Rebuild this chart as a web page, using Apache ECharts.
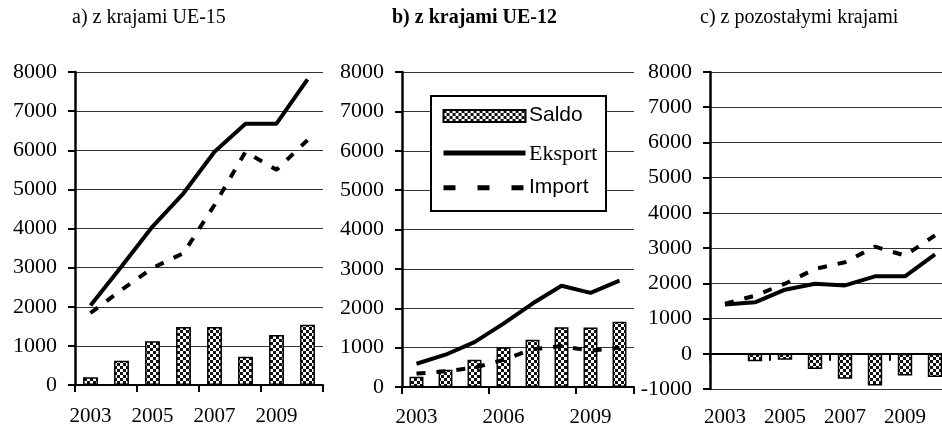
<!DOCTYPE html>
<html>
<head>
<meta charset="utf-8">
<script src="https://cdn.jsdelivr.net/npm/echarts@6/dist/echarts.min.js"></script>
<style>
  html, body { margin: 0; padding: 0; overflow: hidden; background: #fff; }
  #chart { width: 960px; height: 430px; }
</style>
</head>
<body>
<div id="chart"></div>
<script>
// lata
const years = ['2003', '2004', '2005', '2006', '2007', '2008', '2009', '2010']

// a) z krajami UE-15
const saldoA = [200, 620, 1120, 1480, 1480, 720, 1280, 1540]
const eksportA = [2030, 3030, 4050, 4900, 5960, 6680, 6680, 7810]
const importA = [1840, 2430, 2990, 3370, 4600, 5960, 5500, 6260]

// b) z krajami UE-12
const saldoB = [260, 440, 690, 1010, 1200, 1520, 1510, 1660]
const eksportB = [590, 820, 1140, 1610, 2120, 2570, 2390, 2700]
const importB = [340, 400, 490, 690, 960, 1040, 920, 1000]

// c) z pozostałymi krajami
const saldoC = [-20, -210, -170, -430, -710, -900, -620, -660]
const eksportC = [1400, 1460, 1820, 1990, 1940, 2200, 2200, 2820]
const importC = [1420, 1650, 1990, 2410, 2600, 3040, 2790, 3360]

const titles = ['a) z krajami UE-15', 'b) z krajami UE-12', 'c) z pozostałymi krajami']
const legendNames = ['Saldo', 'Eksport', 'Import']

const serif = 'Liberation Serif'

// wzór szachownicy dla słupków
function makePattern() {
  const c = document.createElement('canvas')
  c.width = 6
  c.height = 6
  const g = c.getContext('2d')
  g.fillStyle = '#fff'
  g.fillRect(0, 0, 6, 6)
  g.fillStyle = '#111'
  g.fillRect(0, 0, 3, 3)
  g.fillRect(3, 3, 3, 3)
  return c
}
const pattern = { image: makePattern(), repeat: 'repeat' }

const grids = [
  { left: 75, top: 72, width: 248, height: 313 },
  { left: 402, top: 72, width: 232, height: 315 },
  { left: 710, top: 72, width: 240, height: 317 },
]

function xAxisFor(i, interval, margin) {
  return {
    type: 'category',
    gridIndex: i,
    data: years,
    axisLine: { onZero: true, lineStyle: { color: '#000', width: 2 } },
    axisTick: { show: true, length: 7, lineStyle: { color: '#000', width: 2 } },
    axisLabel: { interval: interval, margin: margin, fontFamily: serif, fontSize: 21, color: '#000' },
    splitLine: { show: false },
  }
}

function yAxisFor(i, min) {
  return {
    type: 'value',
    gridIndex: i,
    min: min,
    max: 8000,
    interval: 1000,
    axisLine: { show: true, onZero: false, lineStyle: { color: '#000', width: 2.5 } },
    axisTick: { show: true, length: 7, lineStyle: { color: '#000', width: 2 } },
    axisLabel: {
      margin: 18,
      fontFamily: serif,
      fontSize: 22,
      color: '#000',
      formatter: function (v) { return String(v) },
    },
    splitLine: { show: true, lineStyle: { color: '#333', width: 1 } },
  }
}

const xAxes = [xAxisFor(0, 1, 21), xAxisFor(1, 2, 20), xAxisFor(2, 1, 20)]
xAxes[2].axisLabel.show = false
// osobna oś tylko z podpisami lat na dole panelu c
xAxes.push({
  type: 'category',
  gridIndex: 2,
  data: years,
  position: 'bottom',
  axisLine: { show: false, onZero: false },
  axisTick: { show: false },
  axisLabel: { interval: 1, margin: 18, fontFamily: serif, fontSize: 21, color: '#000' },
})

const yAxes = [yAxisFor(0, 0), yAxisFor(1, 0), yAxisFor(2, -1000)]

const panels = [
  [saldoA, eksportA, importA],
  [saldoB, eksportB, importB],
  [saldoC, eksportC, importC],
]

const series = []
panels.forEach(function (p, i) {
  series.push({
    name: 'Saldo',
    type: 'bar',
    xAxisIndex: i,
    yAxisIndex: i,
    data: p[0],
    barWidth: '48%',
    itemStyle: { color: pattern, borderColor: '#000', borderWidth: 1.5 },
    z: 2,
  })
  series.push({
    name: 'Eksport',
    type: 'line',
    xAxisIndex: i,
    yAxisIndex: i,
    data: p[1],
    symbol: 'none',
    lineStyle: { color: '#000', width: 4 },
    itemStyle: { color: '#000' },
    z: 4,
  })
  series.push({
    name: 'Import',
    type: 'line',
    xAxisIndex: i,
    yAxisIndex: i,
    data: p[2],
    symbol: 'none',
    lineStyle: { color: '#000', width: 4, type: [9, 11] },
    itemStyle: { color: '#000' },
    z: 3,
  })
})

const hidden = { color: 'rgba(0,0,0,0)', borderWidth: 0, opacity: 0 }

// podpisy legendy jako osobne teksty (różne kroje pisma)
function legendText(text, y, font) {
  return {
    type: 'text',
    x: 529,
    y: y,
    z: 30,
    style: { text: text, font: font, fill: '#000', verticalAlign: 'middle' },
  }
}

const option = {
  animation: false,
  title: [
    { text: titles[0], left: 72, top: 8, padding: 0, textStyle: { fontFamily: serif, fontSize: 20, fontWeight: 'normal', color: '#000' } },
    { text: titles[1], left: 392, top: 8, padding: 0, textStyle: { fontFamily: serif, fontSize: 20, fontWeight: 'bold', color: '#000' } },
    { text: titles[2], left: 700, top: 8, padding: 0, textStyle: { fontFamily: serif, fontSize: 20, fontWeight: 'normal', color: '#000' } },
  ],
  graphic: [
    {
      type: 'rect',
      left: 430,
      top: 95,
      z: 10,
      shape: { width: 175, height: 115 },
      style: { fill: '#fff', stroke: '#000', lineWidth: 2 },
    },
    legendText(legendNames[0], 115, '21px "Liberation Sans"'),
    legendText(legendNames[1], 154, '22px "Liberation Serif"'),
    legendText(legendNames[2], 187, '21px "Liberation Sans"'),
  ],
  legend: {
    orient: 'vertical',
    left: 441,
    top: 109,
    padding: 0,
    itemWidth: 82,
    itemHeight: 12,
    itemGap: 24,
    z: 20,
    formatter: function () { return '' },
    data: [
      { name: 'Saldo', icon: 'rect' },
      { name: 'Eksport', itemStyle: hidden, lineStyle: { width: 5, color: '#000' } },
      { name: 'Import', itemStyle: hidden, lineStyle: { width: 5, color: '#000', type: [12, 22] } },
    ],
  },
  grid: grids,
  xAxis: xAxes,
  yAxis: yAxes,
  series: series,
}

const chart = echarts.init(document.getElementById('chart'))
chart.setOption(option)
</script>
</body>
</html>
